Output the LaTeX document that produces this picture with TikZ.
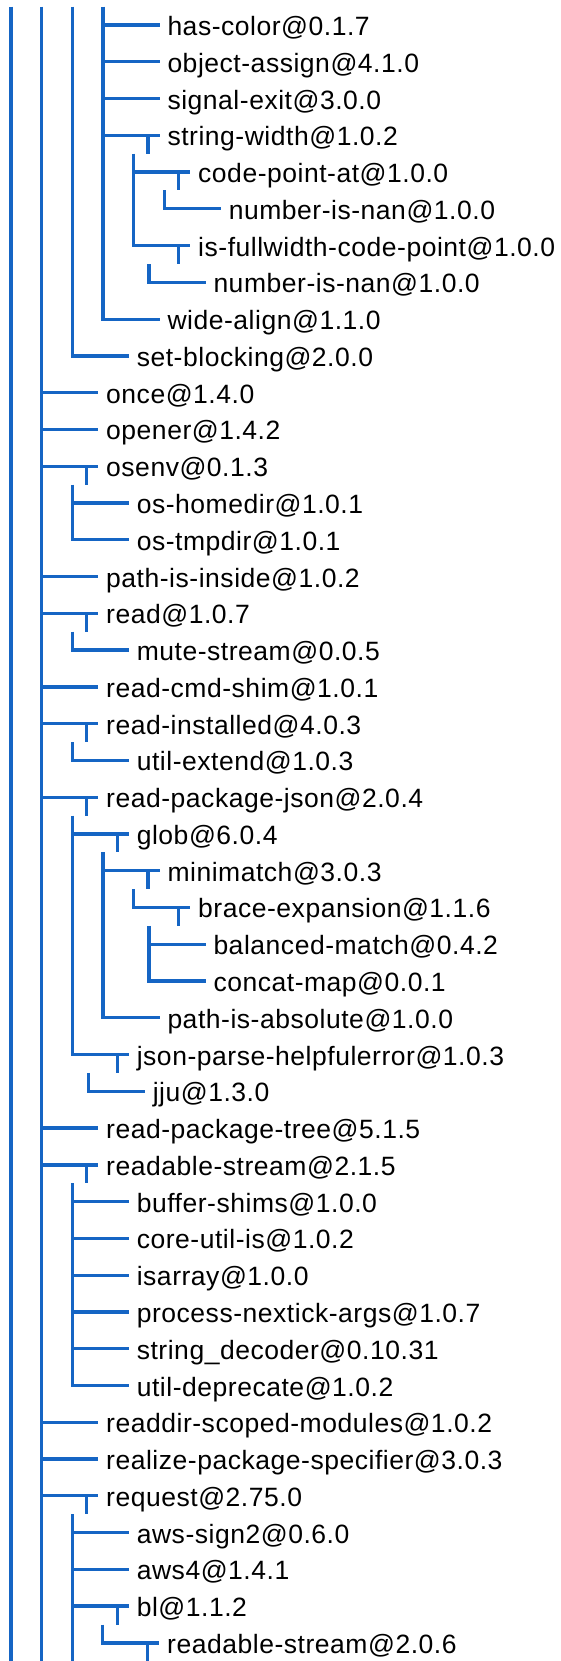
\documentclass[tikz,border=0pt]{standalone}
\usepackage{fontspec}
\newfontfamily\pkgfont[LetterSpace=2]{Liberation Sans}
\definecolor{treeblue}{RGB}{21,101,196}
\tikzset{
  tree/.style={draw=treeblue, line width=3.3pt},
  br/.style={tree, shorten >=8pt},
  pkg/.style={anchor=west, inner sep=0pt, outer sep=0pt, text height=26pt, text depth=5pt,
    font=\pkgfont\fontsize{26.5}{31}\selectfont, text=black},
}
% name, row, corner x, text
\newcommand\pkg[4]{%
  \coordinate (#1-c) at (#3,{-25-(#2-1)*36.77});
  \node[pkg] (#1) at ([xshift=64.5]#1-c) {#4};}
% branch from corner to node
\newcommand\brn[1]{\draw[br] (#1-c) -- (#1.west);}
% stub below a parent
\newcommand\stub[1]{%
  \coordinate (#1-k) at ([xshift=-19.5,yshift=-18.385]#1.west);
  \draw[tree] ([xshift=-19.5]#1.west) -- (#1-k);}
% children line: parent, last child
\newcommand\kids[2]{%
  \coordinate (#1-s) at (#1-k -| #2-c);
  \draw[br] (#1-s) |- (#2.west);}
\begin{document}
\begin{tikzpicture}[x=1pt,y=1pt]
\useasboundingbox (0,0) rectangle (561,-1661);
\pkg{n1}{1}{103}{has-color@0.1.7}
\pkg{n2}{2}{103}{object-assign@4.1.0}
\pkg{n3}{3}{103}{signal-exit@3.0.0}
\pkg{n4}{4}{103}{string-width@1.0.2}
\pkg{n5}{5}{133.7}{code-point-at@1.0.0}
\pkg{n6}{6}{164.3}{number-is-nan@1.0.0}
\pkg{n7}{7}{133.7}{is-fullwidth-code-point@1.0.0}
\pkg{n8}{8}{149}{number-is-nan@1.0.0}
\pkg{n9}{9}{103}{wide-align@1.1.0}
\pkg{n10}{10}{72.3}{set-blocking@2.0.0}
\pkg{n11}{11}{41.7}{once@1.4.0}
\pkg{n12}{12}{41.7}{opener@1.4.2}
\pkg{n13}{13}{41.7}{osenv@0.1.3}
\pkg{n14}{14}{72.3}{os-homedir@1.0.1}
\pkg{n15}{15}{72.3}{os-tmpdir@1.0.1}
\pkg{n16}{16}{41.7}{path-is-inside@1.0.2}
\pkg{n17}{17}{41.7}{read@1.0.7}
\pkg{n18}{18}{72.3}{mute-stream@0.0.5}
\pkg{n19}{19}{41.7}{read-cmd-shim@1.0.1}
\pkg{n20}{20}{41.7}{read-installed@4.0.3}
\pkg{n21}{21}{72.3}{util-extend@1.0.3}
\pkg{n22}{22}{41.7}{read-package-json@2.0.4}
\pkg{n23}{23}{72.3}{glob@6.0.4}
\pkg{n24}{24}{103}{minimatch@3.0.3}
\pkg{n25}{25}{133.7}{brace-expansion@1.1.6}
\pkg{n26}{26}{149}{balanced-match@0.4.2}
\pkg{n27}{27}{149}{concat-map@0.0.1}
\pkg{n28}{28}{103}{path-is-absolute@1.0.0}
\pkg{n29}{29}{72.3}{json-parse-helpfulerror@1.0.3}
\pkg{n30}{30}{88.3}{jju@1.3.0}
\pkg{n31}{31}{41.7}{read-package-tree@5.1.5}
\pkg{n32}{32}{41.7}{readable-stream@2.1.5}
\pkg{n33}{33}{72.3}{buffer-shims@1.0.0}
\pkg{n34}{34}{72.3}{core-util-is@1.0.2}
\pkg{n35}{35}{72.3}{isarray@1.0.0}
\pkg{n36}{36}{72.3}{process-nextick-args@1.0.7}
\pkg{n37}{37}{72.3}{string\_decoder@0.10.31}
\pkg{n38}{38}{72.3}{util-deprecate@1.0.2}
\pkg{n39}{39}{41.7}{readdir-scoped-modules@1.0.2}
\pkg{n40}{40}{41.7}{realize-package-specifier@3.0.3}
\pkg{n41}{41}{41.7}{request@2.75.0}
\pkg{n42}{42}{72.3}{aws-sign2@0.6.0}
\pkg{n43}{43}{72.3}{aws4@1.4.1}
\pkg{n44}{44}{72.3}{bl@1.1.2}
\pkg{n45}{45}{102.7}{readable-stream@2.0.6}
% long lines from the top
\coordinate (topA) at (11,-6.6);   \coordinate (botA) at (11,-1662);
\coordinate (topB) at (41.7,-6.6); \coordinate (botB) at (41.7,-1662);
\coordinate (topC) at (72.3,-6.6);
\coordinate (topD) at (103,-6.6);
\draw[tree] (topA) -- (botA);
\draw[tree] (topB) -- (botB);
\draw[br] (topC) |- (n10.west);
\draw[br] (topD) |- (n9.west);
% plain branches
\foreach \n in {n1,n2,n3,n4,n5,n11,n12,n13,n14,n16,n17,n19,n20,n22,n23,n24,n26,
  n31,n32,n33,n34,n35,n36,n37,n39,n40,n41,n42,n43,n44}{\brn{\n}}
% stubs
\foreach \n in {n4,n5,n7,n13,n17,n20,n22,n23,n24,n25,n29,n32,n41,n44,n45}{\stub{\n}}
% children lines
\kids{n4}{n7}
\kids{n5}{n6}
\kids{n7}{n8}
\kids{n13}{n15}
\kids{n17}{n18}
\kids{n20}{n21}
\kids{n22}{n29}
\kids{n23}{n28}
\kids{n24}{n25}
\kids{n25}{n27}
\kids{n29}{n30}
\kids{n32}{n38}
\kids{n44}{n45}
\coordinate (n41-s) at (n41-k -| n42-c);
\coordinate (n41-e) at (n41-s |- botA);
\draw[tree] (n41-s) -- (n41-e);
\end{tikzpicture}
\end{document}
